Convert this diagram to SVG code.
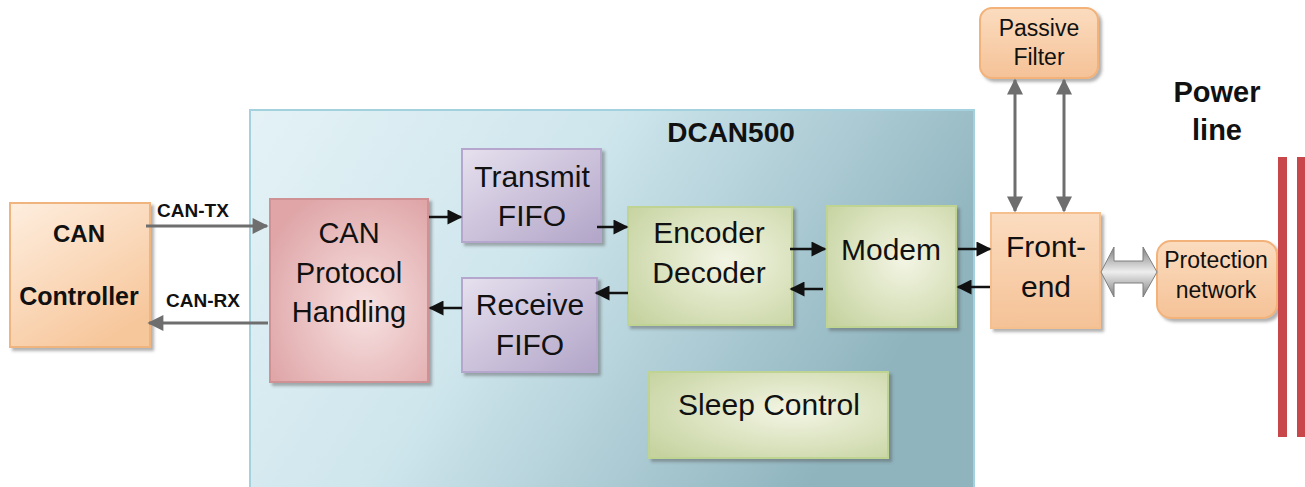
<svg xmlns="http://www.w3.org/2000/svg" width="1305" height="487" viewBox="0 0 1305 487">
<defs>
<style>
.t{font-family:"Liberation Sans",Arial,sans-serif;fill:#111;text-anchor:middle}
.b{font-weight:bold}
.blk{stroke:#111;stroke-width:2.5;fill:none}
.gry{stroke:#6e6e6e;stroke-width:3;fill:none}
</style>
<filter id="sh" x="-10%" y="-10%" width="125%" height="125%">
<feDropShadow dx="3" dy="3" stdDeviation="1.5" flood-color="#555" flood-opacity="0.45"/>
</filter>
<linearGradient id="gBg" x1="0" y1="0" x2="1" y2="0.35">
<stop offset="0" stop-color="#e4f2f6"/>
<stop offset="0.45" stop-color="#cfe6ed"/>
<stop offset="1" stop-color="#8fb4be"/>
</linearGradient>
<linearGradient id="gOr" x1="0" y1="0" x2="0.6" y2="1">
<stop offset="0" stop-color="#feeedf"/>
<stop offset="1" stop-color="#f7c79c"/>
</linearGradient>
<linearGradient id="gOr2" x1="0" y1="0" x2="0" y2="1">
<stop offset="0" stop-color="#fbdcbf"/>
<stop offset="1" stop-color="#f5c297"/>
</linearGradient>
<radialGradient id="gPk" cx="0.6" cy="0.6" r="0.7">
<stop offset="0" stop-color="#f7e1e1"/>
<stop offset="1" stop-color="#dfa5a7"/>
</radialGradient>
<linearGradient id="gPu" x1="0" y1="0" x2="1" y2="1">
<stop offset="0" stop-color="#e6e0ee"/>
<stop offset="1" stop-color="#b2a5c8"/>
</linearGradient>
<radialGradient id="gGr" cx="0.6" cy="0.45" r="0.75">
<stop offset="0" stop-color="#f3f5e4"/>
<stop offset="1" stop-color="#c6d3a0"/>
</radialGradient>
<linearGradient id="gFat" x1="0" y1="0" x2="0" y2="1">
<stop offset="0" stop-color="#7f7f7f"/>
<stop offset="0.5" stop-color="#eeeeee"/>
<stop offset="1" stop-color="#7f7f7f"/>
</linearGradient>
<marker id="ab" viewBox="0 0 10 10" refX="9" refY="5" markerWidth="16" markerHeight="15" markerUnits="userSpaceOnUse" orient="auto">
<path d="M0,0 L10,5 L0,10 z" fill="#111"/>
</marker>
<marker id="ag" viewBox="0 0 10 10" refX="9" refY="5" markerWidth="17" markerHeight="16" markerUnits="userSpaceOnUse" orient="auto-start-reverse">
<path d="M0,0 L10,5 L0,10 z" fill="#6e6e6e"/>
</marker>
</defs>

<rect width="1305" height="487" fill="#ffffff"/>

<g id="dcan500">
<rect x="250" y="110" width="724" height="378" fill="url(#gBg)" stroke="#a3d2de" stroke-width="2"/>
<text class="t b" x="731" y="142" font-size="28">DCAN500</text>
</g>

<g id="can-controller">
<rect x="10" y="203" width="140" height="144" fill="url(#gOr)" stroke="#f0b47f" stroke-width="2" filter="url(#sh)"/>
<text class="t b" x="79" y="242" font-size="24">CAN</text>
<text class="t b" x="79" y="305" font-size="25">Controller</text>
</g>

<g id="can-protocol">
<rect x="270" y="199" width="158" height="183" fill="url(#gPk)" stroke="#cf9194" stroke-width="2" filter="url(#sh)"/>
<text class="t" x="349" y="243" font-size="29">CAN</text>
<text class="t" x="349" y="283" font-size="29">Protocol</text>
<text class="t" x="349" y="322" font-size="29">Handling</text>
</g>

<g id="transmit-fifo">
<rect x="462" y="149" width="139" height="93" fill="url(#gPu)" stroke="#b4a6cd" stroke-width="2" filter="url(#sh)"/>
<text class="t" x="532" y="187" font-size="30">Transmit</text>
<text class="t" x="532" y="226" font-size="30">FIFO</text>
</g>

<g id="receive-fifo">
<rect x="462" y="278" width="135" height="94" fill="url(#gPu)" stroke="#b4a6cd" stroke-width="2" filter="url(#sh)"/>
<text class="t" x="530" y="315" font-size="30">Receive</text>
<text class="t" x="530" y="355" font-size="30">FIFO</text>
</g>

<g id="encoder-decoder">
<rect x="628" y="207" width="164" height="118" fill="url(#gGr)" stroke="#bfd392" stroke-width="2" filter="url(#sh)"/>
<text class="t" x="709" y="243" font-size="30">Encoder</text>
<text class="t" x="709" y="283" font-size="30">Decoder</text>
</g>

<g id="modem">
<rect x="827" y="206" width="129" height="121" fill="url(#gGr)" stroke="#bfd392" stroke-width="2" filter="url(#sh)"/>
<text class="t" x="891" y="260" font-size="30">Modem</text>
</g>

<g id="sleep-control">
<rect x="649" y="372" width="239" height="86" fill="url(#gGr)" stroke="#bfd392" stroke-width="2" filter="url(#sh)"/>
<text class="t" x="769" y="415" font-size="30">Sleep Control</text>
</g>

<g id="front-end">
<rect x="991" y="213" width="109" height="115" fill="url(#gOr2)" stroke="#f5c08d" stroke-width="2" filter="url(#sh)"/>
<text class="t" x="1046" y="257" font-size="30">Front-</text>
<text class="t" x="1046" y="297" font-size="30">end</text>
</g>

<g id="passive-filter">
<rect x="980" y="8" width="118" height="70" rx="12" fill="url(#gOr2)" stroke="#f2b27a" stroke-width="2" filter="url(#sh)"/>
<text class="t" x="1039" y="36" font-size="23">Passive</text>
<text class="t" x="1039" y="65" font-size="23">Filter</text>
</g>

<g id="protection-network">
<rect x="1157" y="241" width="120" height="77" rx="14" fill="url(#gOr2)" stroke="#f2b27a" stroke-width="2" filter="url(#sh)"/>
<text class="t" x="1216" y="268" font-size="23">Protection</text>
<text class="t" x="1216" y="298" font-size="23">network</text>
</g>

<g id="power-line">
<text class="t b" x="1217" y="102" font-size="29">Power</text>
<text class="t b" x="1217" y="140" font-size="29">line</text>
<rect x="1278" y="157" width="9" height="280" fill="#c8474b"/>
<rect x="1297" y="157" width="8" height="280" fill="#c8474b"/>
</g>

<g id="connectors">
<line class="gry" x1="146" y1="226" x2="267" y2="226" marker-end="url(#ag)"/>
<line class="gry" x1="268" y1="323" x2="149" y2="323" marker-end="url(#ag)"/>
<text class="t b" x="193" y="217" font-size="19">CAN-TX</text>
<text class="t b" x="203" y="307" font-size="19">CAN-RX</text>
<line class="blk" x1="429" y1="217" x2="461" y2="217" marker-end="url(#ab)"/>
<line class="blk" x1="597" y1="227" x2="627" y2="227" marker-end="url(#ab)"/>
<line class="blk" x1="628" y1="293" x2="596" y2="293" marker-end="url(#ab)"/>
<line class="blk" x1="462" y1="308" x2="430" y2="308" marker-end="url(#ab)"/>
<line class="blk" x1="790" y1="249" x2="825" y2="249" marker-end="url(#ab)"/>
<line class="blk" x1="823" y1="289" x2="791" y2="289" marker-end="url(#ab)"/>
<line class="blk" x1="958" y1="249" x2="990" y2="249" marker-end="url(#ab)"/>
<line class="blk" x1="990" y1="287" x2="958" y2="287" marker-end="url(#ab)"/>
<line class="gry" x1="1015" y1="80" x2="1015" y2="211" marker-start="url(#ag)" marker-end="url(#ag)"/>
<line class="gry" x1="1064" y1="80" x2="1064" y2="211" marker-start="url(#ag)" marker-end="url(#ag)"/>
<path d="M1101,272 L1114,247 L1114,261 L1143,261 L1143,247 L1157,272 L1143,297 L1143,283 L1114,283 L1114,297 Z" fill="url(#gFat)" stroke="#7f7f7f" stroke-width="1"/>
</g>
</svg>
